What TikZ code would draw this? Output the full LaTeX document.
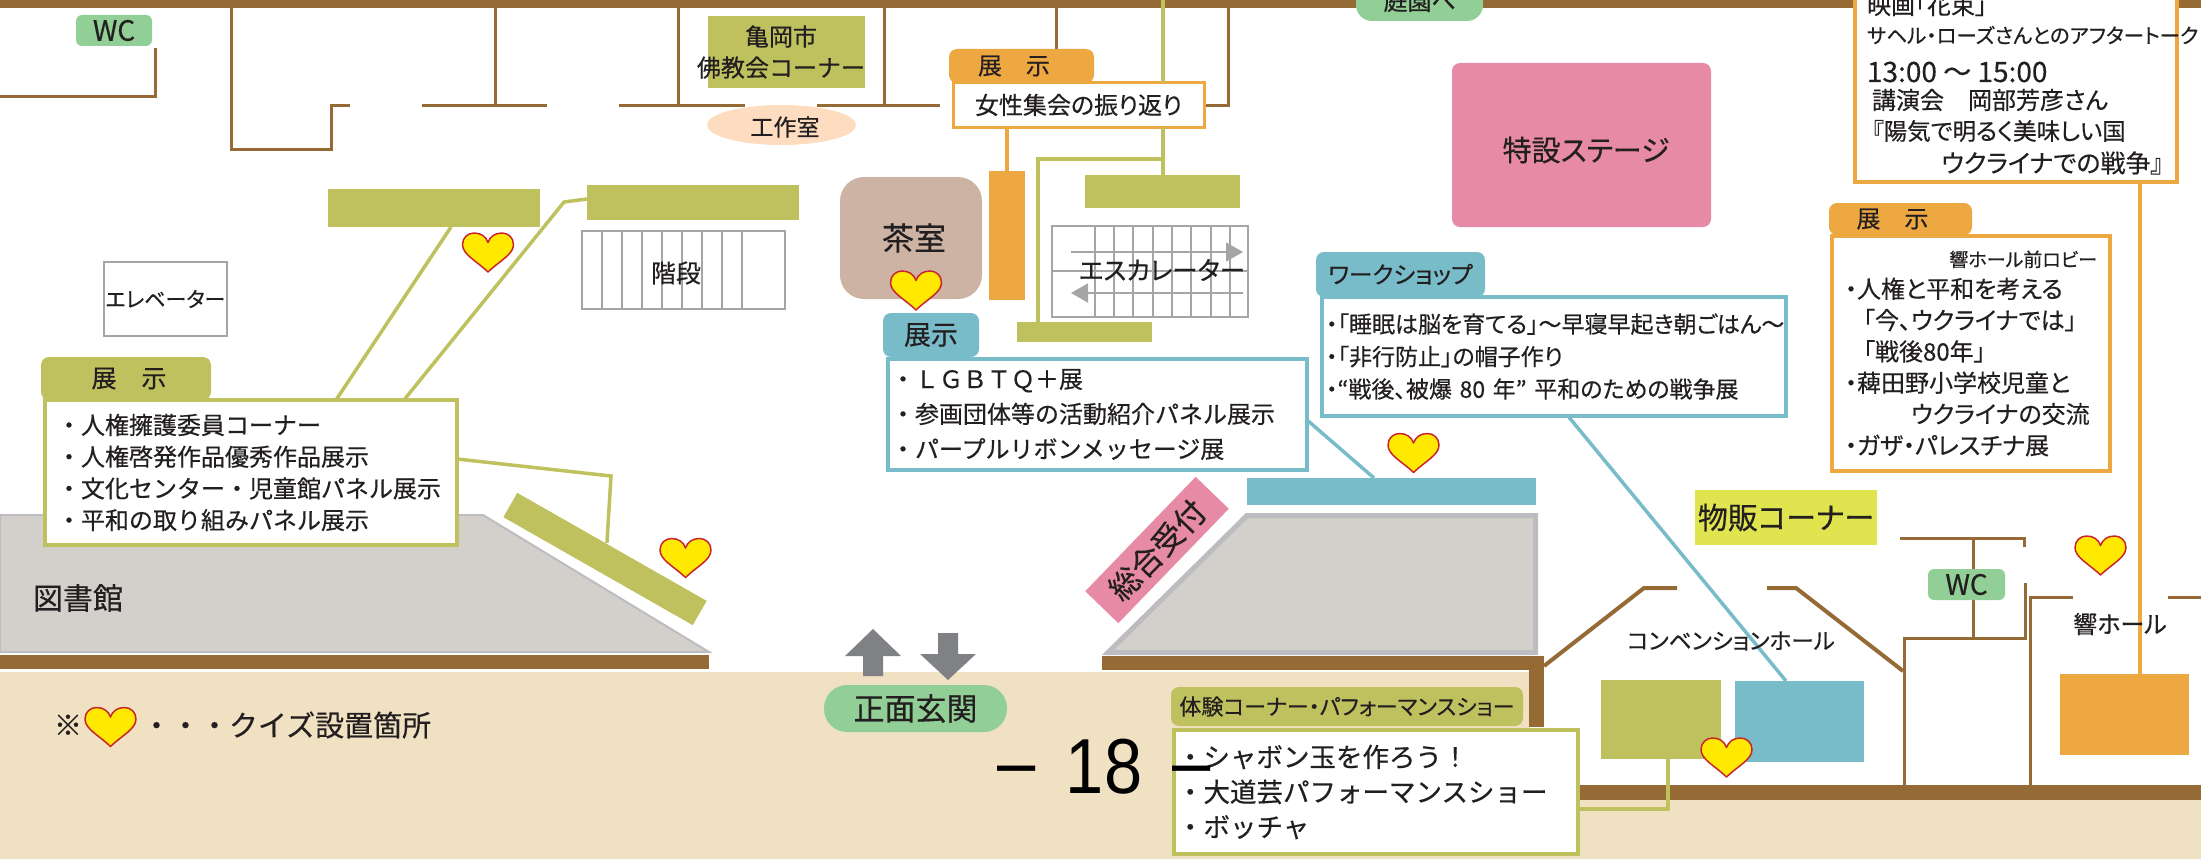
\documentclass[tikz,border=0pt]{standalone}
\usepackage{fontspec}
\setmainfont[FakeBold=0.4]{Noto Sans CJK JP}
\newfontfamily\propfont[RawFeature=+palt,FakeBold=0.4]{Noto Sans CJK JP}
\newfontfamily\pagefont{Liberation Sans}
\usetikzlibrary{arrows.meta,shapes.geometric}

\definecolor{wallbrown}{HTML}{956A35}
\definecolor{olive}{HTML}{BFC15F}
\definecolor{teal}{HTML}{78BCC9}
\definecolor{amber}{HTML}{EDA842}
\definecolor{rose}{HTML}{E78AA5}
\definecolor{leaf}{HTML}{92CF96}
\definecolor{beige}{HTML}{F0E1C3}
\definecolor{stone}{HTML}{D3D0CB}
\definecolor{stoneedge}{HTML}{BDBCC1}
\definecolor{gridgray}{HTML}{A5A5A7}
\definecolor{arrowgray}{HTML}{808184}
\definecolor{cream}{HTML}{FDDCC0}
\definecolor{tan}{HTML}{CCB3A3}
\definecolor{lime}{HTML}{DFE44F}
\definecolor{ink}{HTML}{231F20}
\definecolor{heartfill}{HTML}{FFE900}
\definecolor{heartline}{HTML}{C9252D}

\newcommand{\fs}[2]{\fontsize{#1}{#2}\selectfont}

\tikzset{
  wall/.style={draw=wallbrown, line width=3pt},
  link/.style={draw=#1, line width=3.5pt},
  zone/.style 2 args={minimum width=#1pt, minimum height=#2pt, inner sep=0pt, outer sep=0pt},
  lbl/.style={text=ink, inner sep=0pt, outer sep=0pt},
  tab/.style={fill=#1, rounded corners=8pt, text=ink, inner sep=0pt, outer sep=0pt},
  listbox/.style={draw=#1, fill=white, line width=4pt, align=left, text=ink, inner ysep=0pt, outer sep=0pt},
  gridline/.style={draw=gridgray, line width=2pt},
  hearticon/.pic={
    \draw[fill=heartfill, draw=heartline, line width=1.5pt, line join=round]
      (0,19.5) .. controls (-12,8) and (-25.5,2) .. (-25.5,-8)
      .. controls (-25.5,-15) and (-20,-19.5) .. (-14,-19.5)
      .. controls (-7,-19.5) and (-2,-16) .. (0,-10)
      .. controls (2,-16) and (7,-19.5) .. (14,-19.5)
      .. controls (20,-19.5) and (25.5,-15) .. (25.5,-8)
      .. controls (25.5,2) and (12,8) .. (0,19.5) -- cycle;
  }
}

\begin{document}
\begin{tikzpicture}[x=1pt, y=-1pt]
  \useasboundingbox (0,0) rectangle (2201,859);

  % floor and outer walls
  \fill[beige] (0,672) -- (1530,672) -- (1530,800) -- (2201,800) -- (2201,859) -- (0,859) -- cycle;
  \fill[wallbrown] (0,0) rectangle (2201,8);
  \fill[wallbrown] (0,655) rectangle (709,669);
  \fill[wallbrown] (1102,656) rectangle (1544,670);
  \fill[wallbrown] (1529,656) rectangle (1544,727);
  \fill[wallbrown] (1544,785) rectangle (2201,800);

  % grey blocks
  \filldraw[fill=stone, draw=stoneedge, line width=2pt] (0,515) -- (483,515) -- (709,652) -- (0,652) -- cycle;
  \filldraw[fill=stone, draw=stoneedge, line width=5pt, line join=miter] (1247,515.5) -- (1535.5,515.5) -- (1535.5,652.5) -- (1108,652.5) -- cycle;

  % inner walls, top left
  \draw[wall] (155,48) -- (155,96) -- (0,96);
  \draw[wall] (231,8) -- (231,149) -- (331,149) -- (331,105) -- (350,105);
  \draw[wall] (422,105) -- (547,105);
  \draw[wall] (619,105) -- (745,105);
  \draw[wall] (817,105) -- (940,105);
  \draw[wall] (495,8) -- (495,105);
  \draw[wall] (678,8) -- (678,105);
  \draw[wall] (884,8) -- (884,105);
  \draw[wall] (1056,8) -- (1056,49);
  \draw[wall] (1228,8) -- (1228,105) -- (1205,105);

  % inner walls, halls
  \draw[wall, line width=4pt] (1544,666) -- (1644,588) -- (1677,588);
  \draw[wall, line width=4pt] (1767,588) -- (1796,588) -- (1903,671);
  \draw[wall] (1904,785) -- (1904,638) -- (2025,638) -- (2025,583);
  \draw[wall] (1973,638) -- (1973,538);
  \draw[wall] (1900,538) -- (2024,538) -- (2024,547);
  \draw[wall] (2030,785) -- (2030,597) -- (2073,597);
  \draw[wall] (2168,597) -- (2201,597);

  % stairs and lift
  \node[zone={203}{78}, draw=gridgray, line width=2pt] (stairs) at (683.5,270) {};
  \foreach \x in {602,622,642,662,682,702,722,742}
    \draw[gridline] (\x,231) -- (\x,309);
  \node[zone={123}{74}, draw=gridgray, line width=2.5pt, text=ink, font={\propfont\fs{21}{25}}] (lift) at (165.5,299) {エレベーター};

  % escalator
  \node[zone={196}{91}, draw=gridgray, line width=2pt] (escalator) at (1150,271.5) {};
  \foreach \x in {1094.5,1114,1133,1152.5,1172,1191,1210.5,1230}
    \draw[gridline] (\x,226) -- (\x,317);
  \draw[gridline] (1052,271) -- (1248,271);
  \draw[gridline, -{Triangle[length=17pt,width=19pt]}] (1071,252) -- (1243,252);
  \draw[gridline, -{Triangle[length=17pt,width=19pt]}] (1243,293) -- (1071,293);

  % display stands
  \node[zone={212}{38}, fill=olive] (standA) at (434,208) {};
  \node[zone={212}{35}, fill=olive] (standB) at (693,202.5) {};
  \node[zone={218}{28}, fill=olive, rotate=-29.7] (standC) at (605,559) {};
  \node[zone={155}{33}, fill=olive] (standD) at (1162.5,191.5) {};
  \node[zone={135}{20}, fill=olive] (standE) at (1084.5,332) {};
  \node[zone={36}{129}, fill=amber] (standF) at (1007,235.5) {};
  \node[zone={289}{27}, fill=teal] (standG) at (1391.5,491.5) {};
  \node[zone={120}{79}, fill=olive] (standH) at (1661,719.5) {};
  \node[zone={129}{81}, fill=teal] (standI) at (1799.5,721.5) {};
  \node[zone={129}{81}, fill=amber] (standJ) at (2124.5,714.5) {};

  % rooms
  \node[zone={157}{72}, fill=olive] (buddhist) at (786.5,52) {};
  \node[zone={149}{40}, fill=cream, shape=ellipse] (craftroom) at (781.5,125) {};
  \node[zone={142}{122}, fill=tan, rounded corners=24pt, text=ink, font={\fs{32}{36}}] (tearoom) at (911,238) {\hspace*{6pt}茶室};
  \node[zone={259}{164}, fill=rose, rounded corners=8pt] (stage) at (1581.5,145) {};
  \node[zone={182}{55}, fill=lime, text=ink, font={\propfont\fs{30}{35}}] (shop) at (1786,517.5) {物販コーナー};
  \node[zone={159}{46}, fill=rose, rotate=46, text=ink, font={\fs{31}{36}}] (reception) at (1157,550) {総合受付};

  % lists
  \node[listbox=olive, zone={412}{145}, inner xsep=12pt, text width=388pt, font={\fs{24}{31.7}}] (listA) at (251,472.5)
    {・人権擁護委員コーナー\\・人権啓発作品優秀作品展示\\・文化センター・児童館パネル展示\\・平和の取り組みパネル展示};
  \node[listbox=teal, zone={419}{111}, inner xsep=3pt, text width=413pt, font={\fs{24}{35}}] (listB) at (1097.5,414.5)
    {・ＬＧＢＴＱ＋展\\・参画団体等の活動紹介パネル展示\\・パープルリボンメッセージ展};
  \node[listbox=teal, zone={464}{119}, inner xsep=4pt, text width=456pt, font={\propfont\fs{23}{32.5}}] (listC) at (1554,356.5)
    {・「睡眠は脳を育てる」～早寝早起き朝ごはん～\\・「非行防止」の帽子作り\\・“戦後、被爆 80 年” 平和のための戦争展};
  \node[listbox=amber, zone={278}{235}, inner xsep=13pt, text width=252pt, font={\propfont\fs{24}{31.3}}] (listD) at (1971,353.5)
    {\hfill{\fs{19}{31.3}響ホール前ロビー}\\・人権と平和を考える\\\hspace*{18pt}「今、ウクライナでは」\\\hspace*{18pt}「戦後80年」\\・薭田野小学校児童と\\\hspace*{66pt}ウクライナの交流\\・ガザ・パレスチナ展};
  \node[listbox=olive, zone={404}{124}, inner xsep=3pt, text width=398pt, font={\fs{26.5}{35}}] (listE) at (1376,792)
    {・シャボン玉を作ろう！\\・大道芸パフォーマンスショー\\・ボッチャ};

  % boxes with their own lines
  \node[listbox=amber, line width=3pt, zone={251}{44}, align=center, font={\propfont\fs{24}{30}}] (banner) at (1078.5,105) {女性集会の振り返り};
  \node[listbox=amber, zone={322}{242}] (talkbox) at (2016,61) {};
  \node[lbl, anchor=west, font={\propfont\fs{24}{28}}] (talkA) at (1867,5) {映画「花束」};
  \node[lbl, anchor=west, font={\propfont\fs{20.5}{26}}] (talkB) at (1867,35) {サヘル・ローズさんとのアフタートーク};
  \node[lbl, anchor=west, font={\propfont\fs{28}{32}}] (talkC) at (1867,72) {13:00 ～ 15:00};
  \node[lbl, anchor=west, font={\propfont\fs{24}{28}}] (talkD) at (1872,100) {講演会　岡部芳彦さん};
  \node[lbl, anchor=west, font={\propfont\fs{23.5}{28}}] (talkE) at (1872,131) {『陽気で明るく美味しい国};
  \node[lbl, anchor=east, font={\propfont\fs{25}{28}}] (talkF) at (2163,163) {ウクライナでの戦争』};

  % connectors
  \coordinate (bendB) at (564,202);
  \coordinate (bendC) at (611,476);
  \coordinate (bendD) at (1163,159);
  \coordinate (bendE) at (1038,159);
  \coordinate (bendH) at (1668,809);
  \coordinate (roofend) at (1163,0);
  \draw[link=olive] ([xshift=17pt]standA.south) -- ([xshift=85pt]listA.north);
  \draw[link=olive] ([yshift=3.5pt]standB.west) -- (bendB) -- ([xshift=153pt]listA.north);
  \draw[link=olive] ([yshift=13.5pt]listA.east) -- (bendC) -- ([xshift=-5pt,yshift=4pt]standC.north);
  \draw[link=olive] (roofend) -- (banner.north -| roofend);
  \draw[link=olive] (banner.south -| roofend) -- (standD.north -| roofend);
  \draw[link=olive] (bendD) -- (bendE) -- (standE.north -| bendE);
  \draw[link=amber] (banner.south -| standF) -- (standF.north);
  \draw[link=teal] ([yshift=-5.5pt]listB.east) -- ([xshift=-17.5pt]standG.north);
  \draw[link=teal] ([xshift=14pt]listC.south) -- ([xshift=-13.5pt]standI.north);
  \draw[link=olive] ([xshift=7pt]standH.south) -- (bendH) -- (listE.east |- bendH);
  \draw[link=amber] ([xshift=124pt]talkbox.south) -- ([xshift=15.5pt]standJ.north);

  % tabs and pills
  \node[tab=olive, zone={170}{43}, font={\fs{25}{28}}] (tabA) at (126,378.5) {\hspace*{6pt}展　示};
  \node[tab=teal, zone={96}{44}, font={\fs{27}{31}}] (tabB) at (931,335) {展示};
  \node[tab=teal, zone={169}{45}, font={\propfont\fs{23.5}{28}}] (tabC) at (1400.5,274.5) {ワークショップ};
  \node[tab=amber, zone={145}{34}, font={\fs{24}{28}}] (tabF) at (1021.5,66) {\hspace*{-15pt}展　示};
  \node[tab=amber, zone={143}{32}, font={\fs{24}{28}}] (tabD) at (1900.5,219) {\hspace*{-16pt}展　示};
  \node[tab=olive, zone={352}{39}, font={\propfont\fs{22}{26}}] (tabE) at (1347,706.5) {体験コーナー・パフォーマンスショー};
  \node[tab=leaf, rounded corners=6pt, zone={76}{31}, font={\fs{28}{30}}] (wcA) at (114,30.5) {WC};
  \node[tab=leaf, rounded corners=6pt, zone={77}{31}, font={\fs{28}{30}}] (wcB) at (1966.5,584.5) {WC};
  \node[tab=leaf, rounded corners=16pt, zone={127}{40}, font={\fs{24}{28}}] (garden) at (1419.5,1) {庭園へ};
  \node[tab=leaf, rounded corners=23pt, zone={183}{47}, font={\fs{31}{36}}] (entrance) at (915.5,708.5) {正面玄関};

  % entrance arrows
  \fill[arrowgray] (873,629) -- (901,656) -- (883,656) -- (883,676) -- (863,676) -- (863,656) -- (845,656) -- cycle;
  \fill[arrowgray] (948,680) -- (976,654) -- (958,654) -- (958,633) -- (938,633) -- (938,654) -- (920,654) -- cycle;

  % free labels
  \node[lbl, font={\fs{24}{31}}, align=center] (buddhistlbl) at (781,52) {亀岡市\\佛教会コーナー};
  \node[lbl, font={\fs{23}{27}}] (craftlbl) at (785,127) {工作室};
  \node[lbl, font={\propfont\fs{29}{34}}] (stagelbl) at (1586,150) {特設ステージ};
  \node[lbl, font={\fs{25}{29}}] (stairslbl) at (676,273) {階段};
  \node[lbl, font={\propfont\fs{25.5}{30}}] (escalatorlbl) at (1162,270) {エスカレーター};
  \node[lbl, font={\fs{30}{34}}] (librarylbl) at (78,598) {図書館};
  \node[lbl, font={\propfont\fs{22.6}{27}}] (hall) at (1731,641) {コンベンションホール};
  \node[lbl, font={\propfont\fs{24}{29}}] (hibiki) at (2120,624) {響ホール};
  \node[lbl, font={\fs{28}{32}}] (mark) at (68,725) {※};
  \node[lbl, anchor=west, font={\fs{29}{33}}] (legend) at (142,725) {・・・クイズ設置箇所};

  % quiz hearts
  \pic at (488,252.5) {hearticon};
  \pic at (685.5,558) {hearticon};
  \pic at (916,290.5) {hearticon};
  \pic at (1413.5,453) {hearticon};
  \pic at (1726.5,757.5) {hearticon};
  \pic at (2100.5,555.5) {hearticon};
  \pic at (110.5,727) {hearticon};

  % page number
  \node[inner sep=0pt, text=black, xscale=.88, font={\pagefont\fs{78}{84}}] (pagenum) at (1104,767) {\raisebox{.07em}{–}\hspace{.44em}18\hspace{.44em}\raisebox{.07em}{–}};
\end{tikzpicture}
\end{document}
